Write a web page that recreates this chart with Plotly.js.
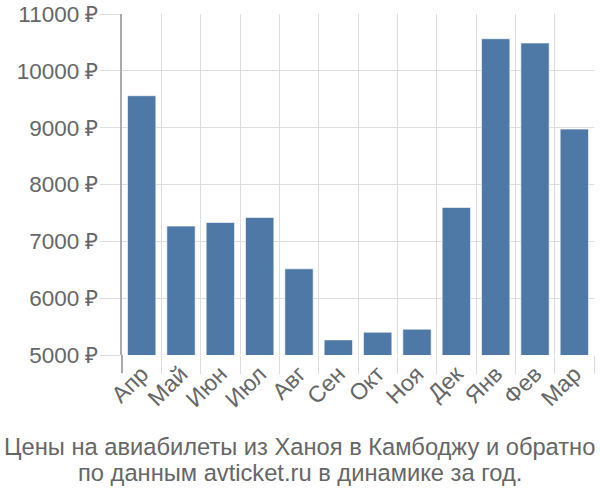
<!DOCTYPE html>
<html>
<head>
<meta charset="utf-8">
<script src="https://cdn.plot.ly/plotly-3.0.1.min.js"></script>
<style>html,body{margin:0;padding:0;background:#fff;}#chart{width:600px;height:500px;}</style>
</head>
<body>
<div id="chart"></div>
<script>
const months = ["Апр","Май","Июн","Июл","Авг","Сен","Окт","Ноя","Дек","Янв","Фев","Мар"];
const prices = [9562, 7268, 7332, 7421, 6516, 5266, 5401, 5454, 7596, 10565, 10489, 8975];
const yTicks = [5000, 6000, 7000, 8000, 9000, 10000, 11000];
const yTickLabels = yTicks.map(v => v + " ₽");
const titleLines = ["Цены на авиабилеты из Ханоя в Камбоджу и обратно", "по данным avticket.ru в динамике за год."];

const fontFam = "Liberation Sans, Arial, sans-serif";
const data = [{
  type: "bar",
  x: months,
  y: prices,
  marker: {color: "#4e79a7", line: {color: "rgba(255,255,255,0.6)", width: 1}},
  hoverinfo: "none"
}];
const layout = {
  width: 600, height: 500,
  margin: {l: 122, r: 6, t: 14, b: 145},
  paper_bgcolor: "#fff", plot_bgcolor: "#fff",
  bargap: 0.28,
  showlegend: false,
  font: {family: fontFam, color: "#666", size: 23},
  xaxis: {
    type: "category", tickson: "boundaries", showgrid: true, gridcolor: "#ddd", gridwidth: 1,
    ticks: "outside", ticklen: 18, tickcolor: "#ddd", tickangle: -45,
    tickfont: {family: fontFam, size: 23, color: "#666"},
    showline: false, zeroline: false, fixedrange: true
  },
  yaxis: {
    range: [5000, 11000], tickvals: yTicks, ticktext: yTickLabels,
    showgrid: true, gridcolor: "#ddd", gridwidth: 1,
    ticks: "outside", ticklen: 20, tickcolor: "#ddd", ticklabelstandoff: -3,
    tickfont: {family: fontFam, size: 22.5, color: "#666"},
    showline: true, linecolor: "#aaa", linewidth: 2, zeroline: false, fixedrange: true
  },
  shapes: [{type: "line", xref: "paper", yref: "paper", x0: 0, x1: 0, y0: -0.053, y1: 0,
            line: {color: "#aaa", width: 2}}],
  annotations: titleLines.map((t, i) => ({
    text: t, xref: "paper", yref: "paper", x: 0.3771, xanchor: "center",
    y: i === 0 ? -0.2698 : -0.346, yanchor: "middle", showarrow: false,
    font: {family: fontFam, size: 23.7, color: "#666"}
  }))
};
Plotly.newPlot("chart", data, layout, {displayModeBar: false, staticPlot: true});
</script>
</body>
</html>
